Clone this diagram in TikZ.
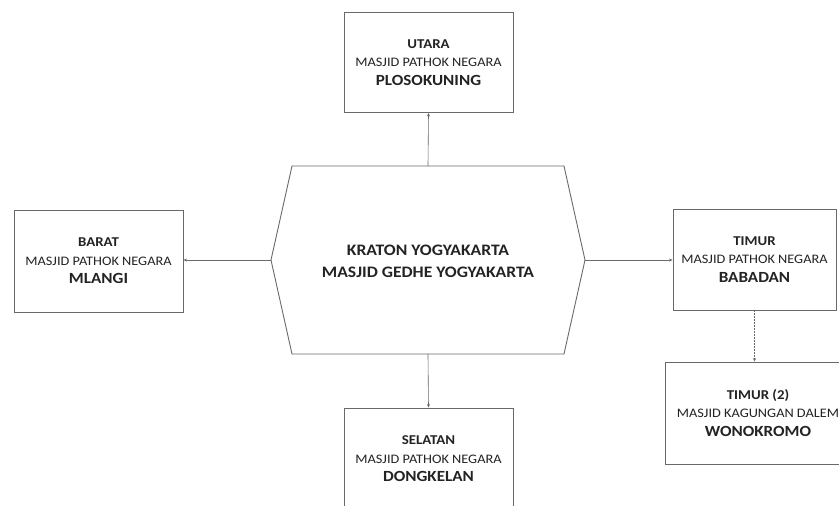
\documentclass[tikz,border=0pt]{standalone}
\usepackage{fontspec}
\setmainfont{Carlito}[FakeStretch=1.1]
\usetikzlibrary{arrows.meta}
\definecolor{linegray}{RGB}{105,105,105}
\definecolor{txt}{RGB}{35,35,35}
\tikzset{
  box/.style={draw=linegray, line width=0.9pt, fill=white, inner sep=0pt, align=center, text=txt,
    font=\fontsize{13}{18.5}\selectfont},
  conn/.style={draw=linegray, line width=0.6pt, -{Stealth[length=3.5pt,width=3pt]}},
  dconn/.style={conn, dash pattern=on 1.5pt off 1.5pt},
}
\newcommand{\hdrtxt}[1]{{\fontsize{13.5}{18}\selectfont\bfseries #1}}
\newcommand{\midtxt}[1]{{\fontsize{13}{18}\selectfont #1}}
\newcommand{\bigtxt}[1]{{\fontsize{15.5}{19}\selectfont\bfseries #1}}
\begin{document}
\begin{tikzpicture}[x=1pt,y=-1pt]
\useasboundingbox (0,0) rectangle (839,506);
% hexagon
\coordinate (htl) at (292,166);
\coordinate (htr) at (564,166);
\coordinate (hr) at (585,260);
\coordinate (hbr) at (564,354);
\coordinate (hbl) at (292,354);
\coordinate (hl) at (271,260);
\coordinate (ht) at (428,166);
\coordinate (hb) at (428,354);
\draw[linegray, line width=0.9pt] (htl) -- (htr) -- (hr) -- (hbr) -- (hbl) -- (hl) -- cycle;
\node[text=txt, align=center, font=\fontsize{16}{22}\selectfont\bfseries] (kraton) at (428,261) {KRATON YOGYAKARTA\\MASJID GEDHE YOGYAKARTA};
% boxes
\node[box, minimum width=169pt, minimum height=100pt] (utara) at (428.5,62.5)
  {\hdrtxt{UTARA}\\\midtxt{MASJID PATHOK NEGARA}\\\bigtxt{PLOSOKUNING}};
\node[box, minimum width=169pt, minimum height=102pt] (barat) at (98.5,261)
  {\hdrtxt{BARAT}\\\midtxt{MASJID PATHOK NEGARA}\\\bigtxt{MLANGI}};
\node[box, minimum width=163pt, minimum height=101pt] (timur) at (754.5,259.5)
  {\hdrtxt{TIMUR}\\\midtxt{MASJID PATHOK NEGARA}\\\bigtxt{BABADAN}};
\node[box, minimum width=186pt, minimum height=102pt] (wono) at (758,413)
  {\hdrtxt{TIMUR (2)}\\\midtxt{MASJID KAGUNGAN DALEM}\\\bigtxt{WONOKROMO}};
\node[box, minimum width=169pt, minimum height=102pt] (selatan) at (428.5,459)
  {\hdrtxt{SELATAN}\\\midtxt{MASJID PATHOK NEGARA}\\\bigtxt{DONGKELAN}};
% connectors
\draw[conn] (ht) -- (utara.south);
\draw[conn] (hb) -- (selatan.north);
\draw[conn] (hl) -- (barat.east |- hl);
\draw[conn] (hr) -- (timur.west |- hr);
\draw[dconn] (timur.south) -- (timur.south |- wono.north);
\end{tikzpicture}
\end{document}
